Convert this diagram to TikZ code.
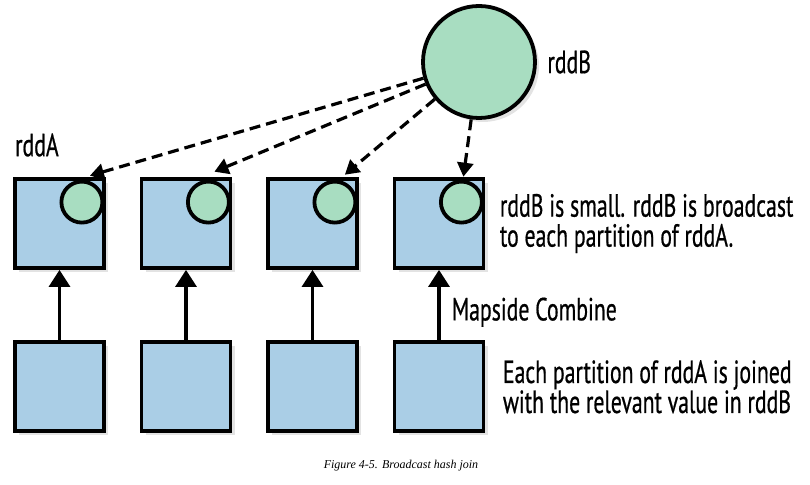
\documentclass[tikz,border=0pt]{standalone}
\usepackage{fontspec}
\setmainfont{PT Sans}[FakeStretch=0.68,FakeBold=0.6]
\newfontfamily\capfont{Liberation Serif}
\usetikzlibrary{arrows.meta,positioning,shadows}
\definecolor{boxblue}{RGB}{170,206,230}
\definecolor{mint}{RGB}{168,221,193}

\begin{document}
\begin{tikzpicture}[x=1pt,y=1pt,
  part/.style={draw,line width=3.8pt,fill=boxblue,minimum size=89pt,inner sep=0pt,
    drop shadow={shadow xshift=4pt,shadow yshift=-4pt,opacity=0.22}},
  dot/.style={circle,draw,line width=3.8pt,fill=mint,minimum size=41pt,inner sep=0pt},
  bcast/.style={line width=3.2pt,dash pattern=on 11pt off 6pt,-{Triangle[width=16pt,length=14pt]}},
  up/.style={line width=3.2pt,-{Triangle[width=21pt,length=17pt]}},
  txt/.style={font=\fontsize{32}{30}\selectfont,align=left}]
\useasboundingbox (0,0) rectangle (810,484);
% rddB
\node[circle,draw,line width=3.8pt,fill=mint,minimum size=112pt,
  drop shadow={shadow xshift=4pt,shadow yshift=-4pt,opacity=0.22}] (big) at (479,422) {};
\node[txt,right=7pt of big] (lb) {rddB};
% partitions of rddA
\node[part] (t1) at (59.5,260.5) {};
\node[part,right=33.7pt of t1] (t2) {};
\node[part,right=33.7pt of t2] (t3) {};
\node[part,right=33.7pt of t3] (t4) {};
\node[part,below=70.5pt of t1] (b1) {};
\node[part,below=70.5pt of t2] (b2) {};
\node[part,below=70.5pt of t3] (b3) {};
\node[part,below=70.5pt of t4] (b4) {};
\foreach \i in {1,...,4}
  \node[dot] (s\i) at ([shift={(-24,-25)}]t\i.north east) {};
\node[txt,above right=17pt and -1.5pt of t1.north west] (la) {rddA};
% broadcast
\draw[bcast] (big) -- ([shift={(8,4)}]s1.north);
\draw[bcast] (big) -- ([shift={(6,8)}]s2.north);
\draw[bcast] (big) -- ([shift={(10,5)}]s3.north);
\draw[bcast] (big) -- ([shift={(2,3)}]s4.north);
% map side
\draw[up] (b1) -- (t1);
\draw[up] (b2) -- (t2);
\draw[up] (b3) -- (t3);
\draw[up] (b4) -- node[txt,right=8pt,pos=0.4]{Mapside Combine} (t4);
\node[txt,right=11pt of t4] (n1) {rddB is small. rddB is broadcast\\to each partition of rddA.};
\node[txt,right=14pt of b4] (n2) {Each partition of rddA is joined\\with the relevant value in rddB};
\node[font=\capfont\itshape\fontsize{12}{14}\selectfont] (cap) at (401,18) {Figure 4-5. Broadcast hash join};
\end{tikzpicture}
\end{document}
